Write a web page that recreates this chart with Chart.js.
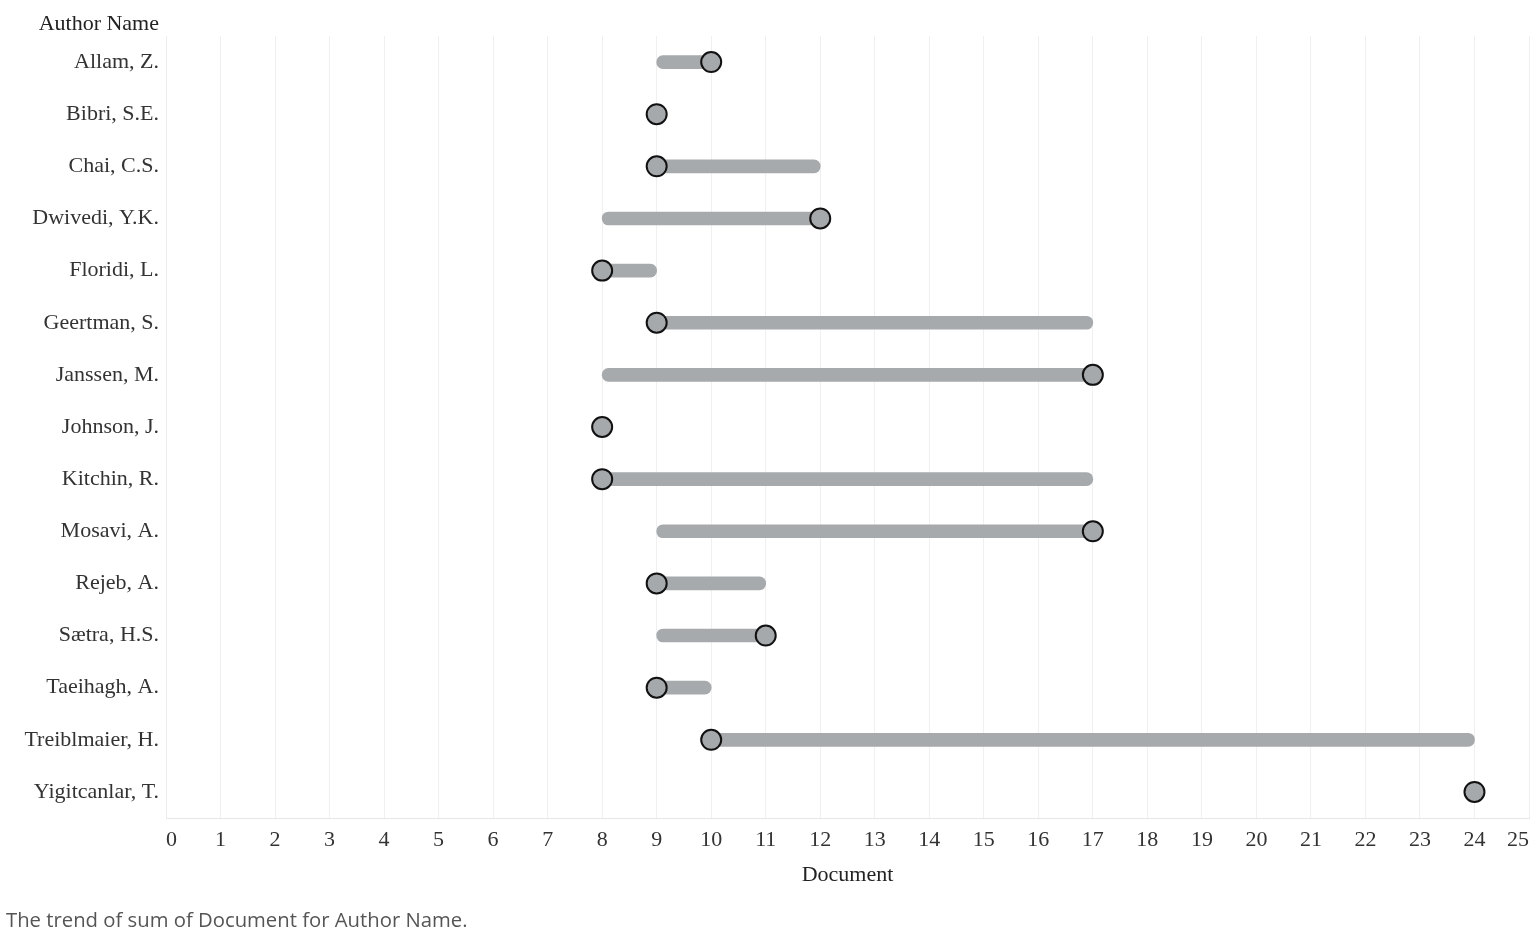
<!DOCTYPE html>
<html>
<head>
<meta charset="utf-8">
<script src="https://cdn.jsdelivr.net/npm/chart.js@4/dist/chart.umd.min.js"></script>
<style>
  html, body { margin: 0; padding: 0; background: #fff; }
  #wrap { position: relative; width: 1535px; height: 938px; }
  #chart { position: absolute; left: 0; top: 0; }
  #ytitle {
    position: absolute; right: calc(1535px - 159px); top: 10px;
    font: 22px "Liberation Serif", "Times New Roman", serif; color: #222;
    white-space: nowrap;
  }
  #caption {
    position: absolute; left: 6px; top: 905px;
    font: 20.3px "Open Sans", "Noto Sans", sans-serif; color: #555;
    white-space: nowrap;
  }
</style>
</head>
<body>
<div id="wrap">
  <canvas id="chart" width="1535" height="938"></canvas>
  <div id="ytitle">Author Name</div>
  <div id="caption">The trend of sum of Document for Author Name.</div>
</div>
<script>
const authors = ['Allam, Z.', 'Bibri, S.E.', 'Chai, C.S.', 'Dwivedi, Y.K.', 'Floridi, L.',
  'Geertman, S.', 'Janssen, M.', 'Johnson, J.', 'Kitchin, R.', 'Mosavi, A.',
  'Rejeb, A.', 'Sætra, H.S.', 'Taeihagh, A.', 'Treiblmaier, H.', 'Yigitcanlar, T.'];
const rangeStart = [9, 9, 9, 8, 8, 9, 8, 8, 8, 9, 9, 9, 9, 10, 24];
const rangeEnd   = [10, 9, 12, 12, 9, 17, 17, 8, 17, 17, 11, 11, 10, 24, 24];
const documents  = [10, 9, 9, 12, 8, 9, 17, 8, 8, 17, 9, 11, 9, 10, 24];

const serif = '"Liberation Serif", "Times New Roman", serif';

document.addEventListener('DOMContentLoaded', () => {
    const ctx = document.getElementById('chart').getContext('2d');
    new Chart(ctx, {
        type: 'bar',
        data: {
            labels: authors,
            datasets: [{
                type: 'line',
                label: 'Document',
                data: documents,
                showLine: false,
                pointRadius: 10,
                pointHoverRadius: 10,
                pointBackgroundColor: '#a6a9ac',
                pointBorderColor: '#111',
                pointBorderWidth: 2,
                order: 0
            }, {
                label: 'Range',
                data: authors.map((a, i) => [rangeStart[i], rangeEnd[i]]),
                backgroundColor: '#a7aaad',
                barThickness: 13,
                borderRadius: 7,
                borderSkipped: false,
                order: 1
            }]
        },
        options: {
            indexAxis: 'y',
            responsive: false,
            animation: false,
            layout: {
                autoPadding: false,
                padding: { top: 36, left: 0, right: 6, bottom: 50 }
            },
            plugins: {
                legend: { display: false },
                tooltip: { enabled: false }
            },
            scales: {
                x: {
                    type: 'linear',
                    min: 0,
                    max: 25,
                    afterFit: (scale) => {
                        scale.height = 70;
                        // end labels are aligned inward, no room needed past the ends
                        scale.paddingLeft = 0;
                        scale.paddingRight = 0;
                    },
                    grid: { color: '#f0f0f0', drawTicks: false },
                    border: { color: '#e6e6e6' },
                    ticks: {
                        stepSize: 1,
                        align: 'inner',
                        padding: 9,
                        color: '#333',
                        font: { family: serif, size: 22 }
                    },
                    title: {
                        display: true,
                        text: 'Document',
                        color: '#222',
                        padding: { top: 0, bottom: 0 },
                        font: { family: serif, size: 22 }
                    }
                },
                y: {
                    type: 'category',
                    afterFit: (scale) => { scale.width = 166; },
                    grid: { display: false, drawTicks: false },
                    border: { color: '#ececec' },
                    ticks: {
                        padding: 7,
                        color: '#333',
                        font: { family: serif, size: 22 }
                    }
                }
            }
        }
    });
});
</script>
</body>
</html>
